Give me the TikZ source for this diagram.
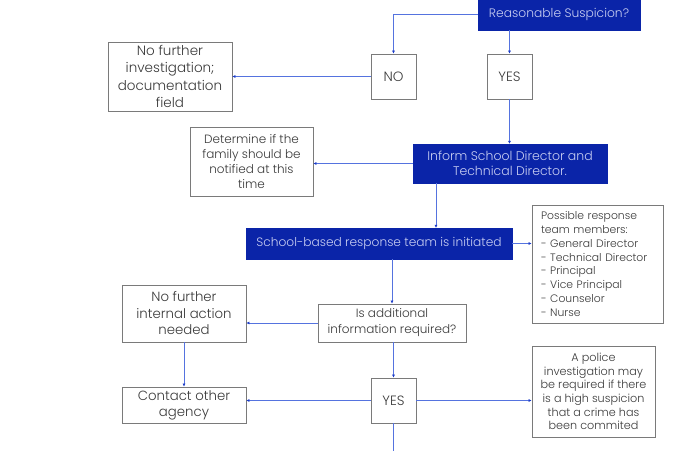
\documentclass[tikz,border=0pt]{standalone}
\usepackage{fontspec}
\setmainfont{Poppins}[UprightFont=* Light]
\usetikzlibrary{arrows.meta}
\definecolor{navy}{HTML}{0A24A8}
\definecolor{navytext}{HTML}{C9CEF2}
\definecolor{lineblue}{HTML}{5573DF}
\definecolor{tipblue}{HTML}{1C3CC8}
\definecolor{boxgray}{HTML}{7A7A7A}
\definecolor{txtgray}{HTML}{3A3A3A}
\tikzset{
  bluebox/.style={fill=navy, draw=navy, text=navytext, inner sep=2pt, align=center},
  whitebox/.style={fill=white, draw=boxgray, line width=0.8pt, text=txtgray, inner sep=2pt, align=center},
  conn/.style={draw=lineblue, line width=0.7pt, -{Latex[length=3pt,width=3pt,color=tipblue]}},
  plainconn/.style={draw=lineblue, line width=0.7pt}
}
\begin{document}
\begin{tikzpicture}[x=1pt,y=-1pt]
\useasboundingbox[fill=white] (0,0) rectangle (700,450);
\node[bluebox, minimum width=162pt, minimum height=32pt, font=\fontsize{12.3}{14}\selectfont] (rs) at (559,14) {Reasonable Suspicion?};
\node[whitebox, minimum width=45pt, minimum height=45pt, font=\fontsize{13.5}{14}\selectfont] (no) at (393.5,76.5) {NO};
\node[whitebox, minimum width=45pt, minimum height=45pt, font=\fontsize{13.5}{14}\selectfont] (yes1) at (509.5,76.5) {YES};
\node[whitebox, minimum width=124pt, minimum height=69pt, font=\fontsize{13.5}{17.5}\selectfont] (nfi) at (170,76.5) {No further\\investigation;\\documentation\\field};
\node[bluebox, minimum width=194pt, minimum height=39pt, font=\fontsize{12.5}{15.5}\selectfont] (inform) at (510,163.5) {Inform School Director and\\Technical Director.};
\node[whitebox, minimum width=123pt, minimum height=69pt, font=\fontsize{12}{15}\selectfont] (det) at (251.5,161.5) {Determine if the\\family should be\\notified at this\\time};
\node[bluebox, minimum width=266pt, minimum height=31pt, font=\fontsize{12.2}{14}\selectfont] (school) at (379,243.5) {School-based response team is initiated};
\node[whitebox, minimum width=131pt, minimum height=118pt, align=left, text width=113pt, inner xsep=9pt, font=\fontsize{10.8}{13.8}\selectfont] (poss) at (597.5,264) {Possible response\\team members:\\- General Director\\- Technical Director\\- Principal\\- Vice Principal\\- Counselor\\- Nurse};
\node[whitebox, minimum width=148pt, minimum height=38pt, font=\fontsize{12}{16}\selectfont] (isadd) at (392,323) {Is additional\\information required?};
\node[whitebox, minimum width=124pt, minimum height=57pt, font=\fontsize{13.3}{16.5}\selectfont] (nfia) at (184,313.5) {No further\\internal action\\needed};
\node[whitebox, minimum width=124pt, minimum height=36pt, font=\fontsize{13.3}{16}\selectfont] (contact) at (184,405) {Contact other\\agency};
\node[whitebox, minimum width=45pt, minimum height=45pt, font=\fontsize{13.5}{14}\selectfont] (yes2) at (393.5,400.5) {YES};
\node[whitebox, minimum width=123pt, minimum height=91pt, font=\fontsize{11.2}{13.7}\selectfont] (police) at (593.5,391.5) {A police\\investigation may\\be required if there\\is a high suspicion\\that a crime has\\been commited};
\coordinate (down) at (393.5,452);
% connectors
\draw[conn] (rs.west) -| (no.north);
\draw[conn] (yes1.north |- rs.south) -- (yes1.north);
\draw[conn] (no.west) -- (no.west -| nfi.east);
\draw[conn] (yes1.south) -- (yes1.south |- inform.north);
\draw[conn] (inform.west) -- (inform.west -| det.east);
\draw[conn] ([xshift=-74pt]inform.south) -- ([xshift=-74pt]inform.south |- school.north);
\draw[conn] (school.east) -- (school.east -| poss.west);
\draw[conn] (isadd.north |- school.south) -- (isadd.north);
\draw[conn] (isadd.west) -- (isadd.west -| nfia.east);
\draw[conn] (nfia.south) -- (contact.north);
\draw[conn] (yes2.north |- isadd.south) -- (yes2.north);
\draw[conn] (yes2.west) -- (yes2.west -| contact.east);
\draw[conn] (yes2.east) -- (yes2.east -| police.west);
\draw[plainconn] (yes2.south) -- (down);
\end{tikzpicture}
\end{document}
